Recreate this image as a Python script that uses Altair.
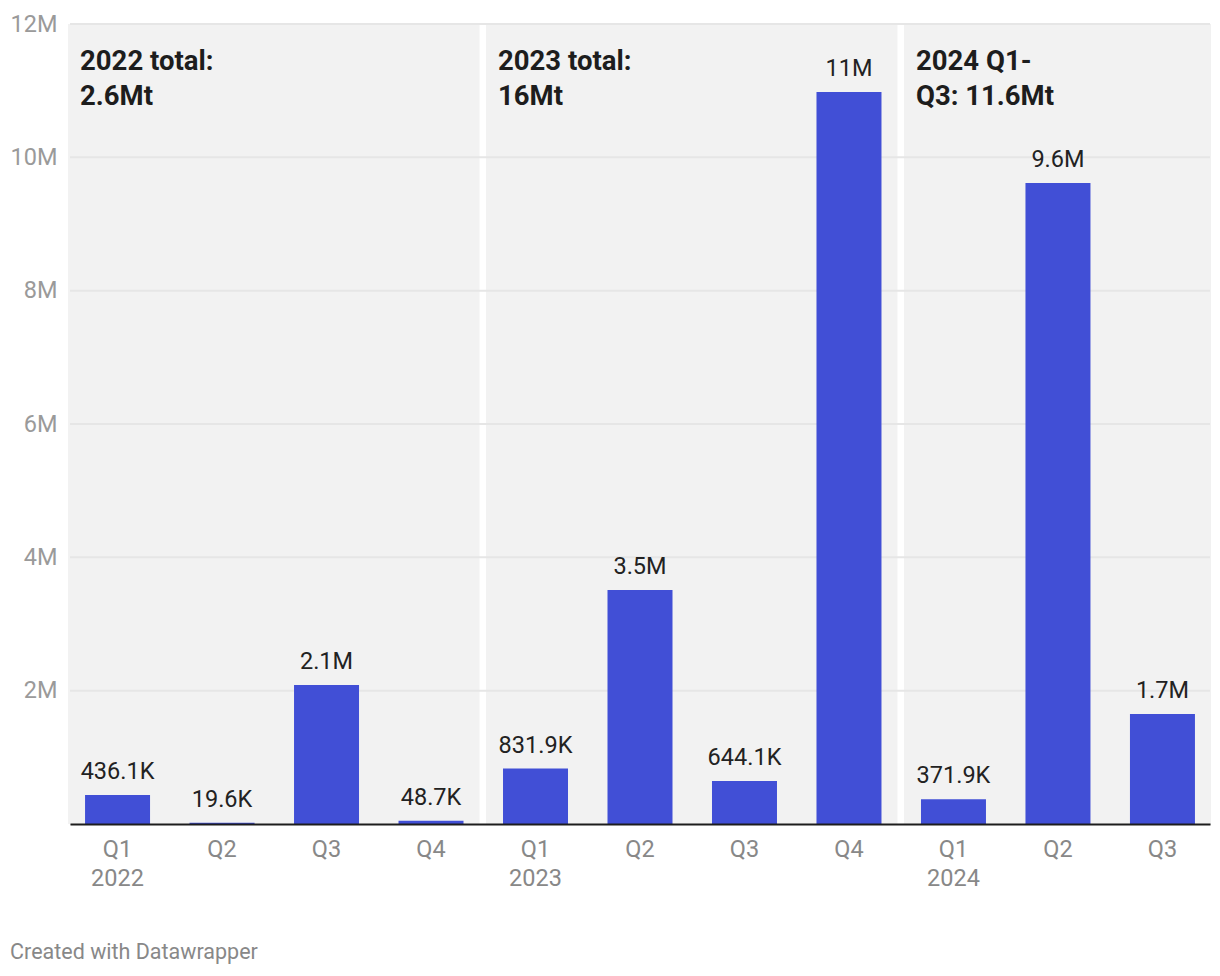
import altair as alt
import pandas as pd

# ---- data ----
quarters = ["Q1", "Q2", "Q3", "Q4", "Q1", "Q2", "Q3", "Q4", "Q1", "Q2", "Q3"]
years = ["2022", "2022", "2022", "2022", "2023", "2023", "2023", "2023", "2024", "2024", "2024"]
values = [436100, 19600, 2085000, 48700, 831900, 3510000, 644100, 10980000, 371900, 9615000, 1650000]
value_labels = ["436.1K", "19.6K", "2.1M", "48.7K", "831.9K", "3.5M", "644.1K", "11M", "371.9K", "9.6M", "1.7M"]

region_start = ["Q1 2022", "Q1 2023", "Q1 2024"]
region_end = ["Q4 2022", "Q4 2023", "Q3 2024"]
region_notes = [["2022 total:", "2.6Mt"], ["2023 total:", "16Mt"], ["2024 Q1-", "Q3: 11.6Mt"]]

y_ticks = [2000000, 4000000, 6000000, 8000000, 10000000, 12000000]
y_max = 12000000

keys = [f"{q} {y}" for q, y in zip(quarters, years)]

bars_df = pd.DataFrame({"key": keys, "value": values, "label": value_labels})
regions_df = pd.DataFrame({"start": region_start, "end": region_end, "note": region_notes})
grid_df = pd.DataFrame({"tick": y_ticks})

FONT = "Roboto"

x_scale = alt.Scale(domain=keys, paddingInner=0.378, paddingOuter=0.144)
y_scale = alt.Scale(domain=[0, y_max], nice=False, zero=True)

x_axis = alt.Axis(
    title=None, labelAngle=0, ticks=False, labelPadding=13,
    labelExpr="substring(datum.label, 0, 2) == 'Q1' ? split(datum.label, ' ') : substring(datum.label, 0, 2)",
    labelFont=FONT, labelFontSize=23.5, labelColor="#888888", labelLineHeight=29,
    domainColor="#1d1d1d", domainWidth=2, zindex=1, grid=False,
)
y_axis = alt.Axis(
    title=None, values=y_ticks, ticks=False, domain=False, grid=False,
    labelExpr="(datum.value / 1000000) + 'M'", labelPadding=13,
    labelFont=FONT, labelFontSize=23.5, labelColor="#9a9a9a", labelFlush=False,
    labelBaseline="middle",
)

bg = alt.Chart(regions_df).mark_rect(color="#f2f2f2", xOffset=-17, x2Offset=16).encode(
    x=alt.X("start:N", bandPosition=0, scale=x_scale, axis=x_axis),
    x2=alt.X2("end:N", bandPosition=1),
    y=alt.Y(datum=y_max, type="quantitative", scale=y_scale, axis=y_axis),
    y2=alt.Y2(datum=0),
)

grid = alt.Chart(grid_df).mark_rule(color="#e6e6e6", strokeWidth=2).encode(
    y=alt.Y("tick:Q", scale=y_scale, axis=y_axis),
)

bars = alt.Chart(bars_df).mark_bar(color="#414fd6").encode(
    x=alt.X("key:N", scale=x_scale, axis=x_axis),
    y=alt.Y("value:Q", scale=y_scale, axis=y_axis),
)

labels = alt.Chart(bars_df).mark_text(
    font=FONT, fontSize=23.5, baseline="alphabetic", dy=-16, color="#222222"
).encode(
    x=alt.X("key:N", scale=x_scale, axis=x_axis),
    y=alt.Y("value:Q", scale=y_scale, axis=y_axis),
    text="label:N",
)

notes = alt.Chart(regions_df).mark_text(
    font=FONT, fontSize=27.5, fontWeight="bold", align="left", baseline="alphabetic",
    lineHeight=35, dx=-5, dy=46, color="#1d1d1d"
).encode(
    x=alt.X("start:N", bandPosition=0, scale=x_scale, axis=x_axis),
    y=alt.Y(datum=y_max, type="quantitative", scale=y_scale, axis=y_axis),
    text="note",
)

chart = alt.layer(bg, grid, bars, labels, notes).properties(
    width=1140,
    height=800,
    title=alt.TitleParams(
        "Created with Datawrapper", orient="bottom", anchor="start", frame="bounds",
        font=FONT, fontSize=21.5, fontWeight="normal", color="#888888", offset=52,
    ),
    autosize=alt.AutoSizeParams(type="none"),
    padding={"left": 62, "top": 16, "right": 2, "bottom": 144},
).configure_view(stroke=None).configure(background="white")

chart.save("out.html", embed_options={"renderer": "svg", "actions": False})
